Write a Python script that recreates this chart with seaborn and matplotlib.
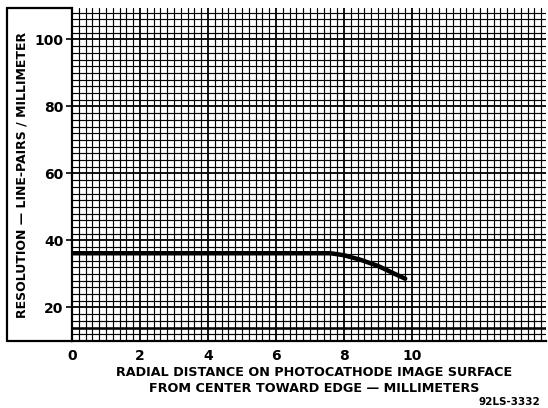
import matplotlib
matplotlib.use("Agg")
import matplotlib.pyplot as plt
import seaborn as sns
import pandas as pd
from matplotlib.ticker import MultipleLocator
from matplotlib.lines import Line2D

# Data
distance_mm = [0.0, 2.0, 4.0, 6.0, 7.6, 8.0, 8.5, 9.0, 9.5, 9.8]
resolution_lp_mm = [36.2, 36.2, 36.2, 36.2, 36.2, 35.6, 34.2, 32.4, 30.0, 28.6]
x_ticks = [0, 2, 4, 6, 8, 10]
y_ticks = [20, 40, 60, 80, 100]

df = pd.DataFrame({"x": distance_mm, "y": resolution_lp_mm})

sns.set_theme(style="white")
plt.rcParams['font.family'] = ['DejaVu Sans']

fig = plt.figure(figsize=(5.48, 4.08), dpi=100)
ax = fig.add_axes([72/548, 1-341/408, (546-72)/548, (341-8)/408])

sns.lineplot(data=df, x="x", y="y", ax=ax, color="black", linewidth=3.2, zorder=5)

ax.set_xlim(0, 13.94)
ax.set_ylim(10, 109.4)
ax.xaxis.set_major_locator(MultipleLocator(1))
ax.xaxis.set_minor_locator(MultipleLocator(0.2))
ax.yaxis.set_major_locator(MultipleLocator(10))
ax.yaxis.set_minor_locator(MultipleLocator(2))
ax.grid(which="major", color="black", linewidth=1.3)
ax.grid(which="minor", color="black", linewidth=0.85)
ax.set_axisbelow(True)
ax.axhline(14, color="black", linewidth=1.8, zorder=4)

ax.set_xticks(x_ticks)
ax.set_xticklabels([str(t) for t in x_ticks])
ax.set_yticks(y_ticks)
ax.set_yticklabels([str(t) for t in y_ticks])
ax.tick_params(axis="y", which="major", labelsize=10, length=4, width=1.2,
               color="black", labelcolor="black", direction="out", pad=2, left=True)
ax.tick_params(axis="x", which="major", labelsize=10, length=0, width=0,
               color="black", labelcolor="black", pad=6, bottom=False)
ax.tick_params(which="minor", length=0)
for lab in ax.get_xticklabels() + ax.get_yticklabels():
    lab.set_fontweight("bold")

for s in ["top", "right"]:
    ax.spines[s].set_visible(False)
for s in ["left", "bottom"]:
    ax.spines[s].set_visible(True)
    ax.spines[s].set_color("black")
    ax.spines[s].set_linewidth(1.6)

ax.set_xlabel("")
ax.set_ylabel("")

# outer frame around y label area
fx0, fx1 = 7/548, 72/548
fy0, fy1 = 1-341/408, 1-8/408
for xs, ys in [([fx0, fx1], [fy1, fy1]), ([fx0, fx1], [fy0, fy0]), ([fx0, fx0], [fy0, fy1])]:
    fig.add_artist(Line2D(xs, ys, transform=fig.transFigure, color="black", linewidth=1.6))

fig.text(22/548, 1-175/408, "RESOLUTION — LINE-PAIRS / MILLIMETER", rotation=90,
         ha="center", va="center", fontsize=9, fontweight="bold", color="black")
fig.text(314/548, 1-373/408, "RADIAL DISTANCE ON PHOTOCATHODE IMAGE SURFACE",
         ha="center", va="center", fontsize=9.2, fontweight="bold", color="black")
fig.text(314/548, 1-389/408, "FROM CENTER TOWARD EDGE — MILLIMETERS",
         ha="center", va="center", fontsize=9.2, fontweight="bold", color="black")
fig.text(540/548, 1-402/408, "92LS-3332", ha="right", va="center",
         fontsize=7.5, fontweight="bold", color="black")

fig.savefig("out.png", dpi=100, facecolor="white")
